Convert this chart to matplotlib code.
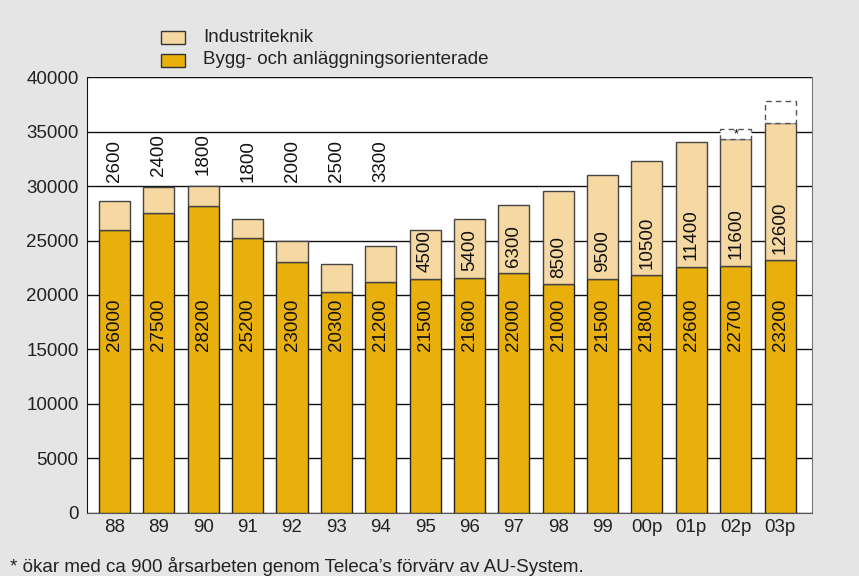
import matplotlib
matplotlib.use('Agg')
import matplotlib.pyplot as plt
from matplotlib.patches import Rectangle

plt.rcParams['font.family'] = ['Liberation Sans', 'DejaVu Sans']

years = ["88", "89", "90", "91", "92", "93", "94", "95",
         "96", "97", "98", "99", "00p", "01p", "02p", "03p"]
bygg = [26000, 27500, 28200, 25200, 23000, 20300, 21200, 21500,
        21600, 22000, 21000, 21500, 21800, 22600, 22700, 23200]
industri = [2600, 2400, 1800, 1800, 2000, 2500, 3300, 4500,
            5400, 6300, 8500, 9500, 10500, 11400, 11600, 12600]
# expected additions for the forecast years (dashed outline)
tillagg = [0, 0, 0, 0, 0, 0, 0, 0, 0, 0, 0, 0, 0, 0, 900, 2000]
tillagg_mark = ["", "", "", "", "", "", "", "", "", "", "", "", "", "", "*", ""]

dark = "#E9B00D"
light = "#F6D9A2"
bg = "#E5E5E5"
fs = 13.5

fig = plt.figure(figsize=(8.59, 5.76), dpi=100, facecolor=bg)
ax = fig.add_axes([0.1013, 0.1094, 0.8440, 0.7569])
ax.set_facecolor("white")

x = list(range(len(years)))
w = 0.70
ax.bar(x, bygg, width=w, color=dark, edgecolor="#222222", linewidth=1, zorder=3)
ax.bar(x, industri, width=w, bottom=bygg, color=light, edgecolor="#444444",
       linewidth=1, zorder=3)

for i in x:
    total = bygg[i] + industri[i]
    if tillagg[i]:
        ax.add_patch(Rectangle((i - w / 2, total), w, tillagg[i], facecolor="white",
                               edgecolor="#555555", linestyle=(0, (4, 3)),
                               linewidth=1, zorder=3))
        if tillagg_mark[i]:
            ax.text(i, total + tillagg[i] / 2, tillagg_mark[i], ha="center",
                    va="center", fontsize=9, zorder=4)
    # bottom segment value
    ax.text(i, 17300, str(bygg[i]), rotation=90, ha="center", va="center",
            fontsize=fs, color="#111111", zorder=4)
    # top segment value: above bar for small values, inside otherwise
    if industri[i] < 4000:
        ax.text(i, max(total + 1000, 30400), str(industri[i]), rotation=90,
                ha="center", va="bottom", fontsize=fs, color="#111111", zorder=4)
    else:
        ax.text(i, bygg[i] + 600, str(industri[i]), rotation=90,
                ha="center", va="bottom", fontsize=fs, color="#111111", zorder=4)

ax.set_xlim(-0.62, 15.72)
ax.set_ylim(0, 40000)
ax.set_yticks(range(0, 40001, 5000))
ax.set_xticks(x)
ax.set_xticklabels(years)
ax.tick_params(axis="both", length=0, labelsize=fs, colors="#222222")
ax.tick_params(axis="y", pad=6)
ax.tick_params(axis="x", pad=4)
ax.yaxis.grid(True, color="#111111", linewidth=1, zorder=0)
ax.set_axisbelow(True)
ax.spines["top"].set_visible(False)
ax.spines["left"].set_color("#111111")
ax.spines["bottom"].set_color("#555555")
ax.spines["right"].set_color("#777777")

# legend
fig_w, fig_h = 859, 576
for row, (label, col) in enumerate([("Industriteknik", light),
                                    ("Bygg- och anläggningsorienterade", dark)]):
    yc = 37 + row * 23
    fig.add_artist(Rectangle((161 / fig_w, 1 - (yc + 6.5) / fig_h), 24 / fig_w,
                             13 / fig_h, transform=fig.transFigure,
                             facecolor=col, edgecolor="#333333", linewidth=1))
    fig.text(203 / fig_w, 1 - yc / fig_h, label, ha="left", va="center",
             fontsize=fs, color="#222222")

fig.text(10 / fig_w, 1 - 567 / fig_h,
         "* ökar med ca 900 årsarbeten genom Teleca\u2019s förvärv av AU-System.",
         ha="left", va="center", fontsize=fs, color="#222222")

fig.savefig("out.png", dpi=100, facecolor=bg)
